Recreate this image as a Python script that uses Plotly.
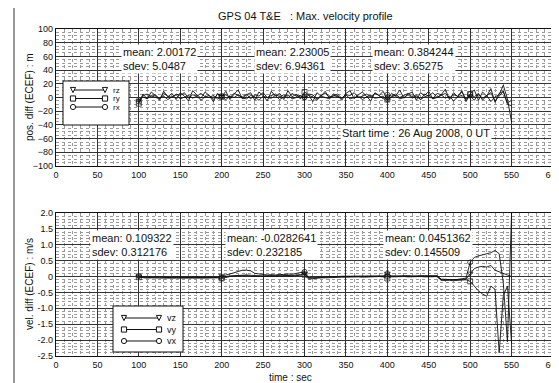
import plotly.graph_objects as go

W, H = 559, 383
OFF = 8  # the page body adds an 8 px margin around the figure

# ---------------- data ----------------
time_s = list(range(100, 551, 5))

rx = [-6, 3, 5, 1, 4, -2, 6, 2, 0, 5,
      3, 7, -1, 4, 2, 6, 1, 3, -3, 5,
      2, 4, 0, 6, 3, 1, 5, -2, 4, 2,
      7, 0, 3, 5, 1, 4, -1, 6, 2, 3,
      0, 5, 4, -2, 3, 6, 1, 2, 5, -1,
      4, 3, 7, 0, 2, 5, 1, 6, 3, -2,
      4, 2, 5, 0, 3, 6, 1, 4, -3, 5,
      2, 7, 0, 3, 6, -1, 4, 2, 8, -2,
      5, 1, 6, -4, 3, 7, -5, 2, 9, -8,
      -4]
ry = [-9, 5, -2, 8, 3, -4, 9, 1, 6, -3,
      7, 2, -5, 10, 4, -1, 8, 3, -6, 6,
      1, 9, -3, 5, 11, -2, 4, 7, -4, 8,
      3, -5, 9, 2, 6, -3, 10, 1, 5, -2,
      8, 4, -6, 7, 2, 9, -1, 5, 3, -4,
      6, 10, -2, 4, 8, 1, -5, 7, 3, 9,
      -3, 6, 2, 11, -1, 5, 8, -4, 7, 3,
      9, -2, 6, 4, 12, -3, 7, 1, 10, -6,
      5, 11, -4, 8, 2, 13, -7, 6, 9, -10,
      -12]
rz = [-4, 1, -2, 3, 0, -1, 2, -3, 1, 4,
      -2, 0, 3, -1, 2, -4, 1, 0, 3, -2,
      1, -3, 2, 0, 4, -1, -2, 3, 1, -4,
      2, 0, -1, 3, -3, 1, 4, -2, 0, 2,
      -1, 3, 1, -4, 2, 0, -2, 3, 1, -1,
      4, -2, 0, 2, -3, 1, 3, -1, 0, 2,
      -4, 1, 3, -2, 0, 4, -1, 2, -3, 1,
      3, -2, 0, 4, -1, 2, -5, 1, 3, -3,
      2, -4, 5, -1, 3, -6, 1, 4, 18, -2,
      -36]

vx = [0.02, -0.02, -0.03, -0.02, -0.03, -0.02, -0.03, -0.03, -0.02, -0.03,
      -0.03, -0.02, -0.03, -0.03, -0.02, -0.03, -0.03, -0.02, -0.03, -0.03,
      -0.05, 0.05, 0.08, 0.12, 0.18, 0.2, 0.2, 0.18, 0.1, 0.08,
      0.06, 0.05, 0.06, 0.05, 0.07, 0.06, 0.08, 0.07, 0.1, 0.12,
      0.15, -0.05, -0.04, -0.03, -0.02, -0.02, -0.01, -0.01, 0.0, 0.0,
      0.0, 0.01, 0.0, 0.01, 0.0, 0.01, 0.0, 0.01, 0.02, 0.02,
      0.08, 0.02, 0.02, 0.03, 0.02, 0.03, 0.02, 0.03, 0.02, 0.03,
      0.03, 0.02, 0.03, -0.08, -0.09, -0.08, -0.1, -0.09, -0.08, -0.05,
      0.45, 0.6, 0.65, 0.68, 0.7, 0.75, 0.82, 0.72, -0.2, -2.05,
      2.0]
vy = [-0.02, -0.04, -0.05, -0.04, -0.05, -0.04, -0.05, -0.05, -0.04, -0.05,
      -0.05, -0.04, -0.05, -0.05, -0.04, -0.05, -0.05, -0.04, -0.05, -0.04,
      -0.06, -0.02, 0.0, 0.02, 0.03, 0.04, 0.03, 0.02, 0.0, 0.01,
      0.0, 0.01, 0.0, 0.01, 0.02, 0.01, 0.02, 0.01, 0.02, 0.04,
      0.06, -0.08, -0.06, -0.05, -0.04, -0.04, -0.03, -0.03, -0.02, -0.02,
      -0.02, -0.01, -0.02, -0.01, -0.02, -0.01, -0.01, -0.01, 0.0, -0.01,
      -0.06, -0.01, 0.0, -0.01, 0.0, -0.01, 0.0, -0.01, 0.0, -0.01,
      0.0, -0.01, 0.0, -0.12, -0.11, -0.12, -0.13, -0.12, -0.11, -0.1,
      -0.15, -0.3, -0.45, -0.55, -0.62, -0.3, -0.4, -2.4, -0.6, -0.3,
      -2.1]
vz = [0.0, -0.01, -0.02, -0.01, -0.02, -0.01, -0.02, -0.01, -0.02, -0.01,
      -0.02, -0.01, -0.02, -0.01, -0.02, -0.01, -0.02, -0.01, -0.02, -0.02,
      0.03, 0.0, 0.02, 0.03, 0.05, 0.06, 0.05, 0.04, 0.03, 0.02,
      0.02, 0.03, 0.02, 0.03, 0.04, 0.03, 0.04, 0.03, 0.05, 0.06,
      0.1, -0.03, -0.02, -0.02, -0.01, -0.01, 0.0, 0.0, 0.0, 0.01,
      0.0, 0.01, 0.01, 0.0, 0.01, 0.01, 0.0, 0.01, 0.01, 0.01,
      0.1, 0.01, 0.0, 0.01, 0.0, 0.01, 0.0, 0.01, 0.0, 0.01,
      0.0, 0.01, 0.0, -0.1, -0.1, -0.11, -0.1, -0.1, -0.09, -0.08,
      0.1, 0.25, 0.3, 0.32, 0.3, 0.35, 0.2, 0.15, 0.1, 0.05,
      0.0]

pos_stats = [("mean: 2.00172", "sdev: 5.0487", 78),
             ("mean: 2.23005", "sdev: 6.94361", 239),
             ("mean: 0.384244", "sdev: 3.65275", 381)]
vel_stats = [("mean: 0.109322", "sdev: 0.312176", 41),
             ("mean: -0.0282641", "sdev: 0.232185", 204),
             ("mean: 0.0451362", "sdev: 0.145509", 395)]

x_ticks = list(range(0, 601, 50))
pos_ticks = list(range(-100, 101, 20))
vel_tickvals = [2.0, 1.5, 1.0, 0.5, 0.0, -0.5, -1.0, -1.5, -2.0, -2.5]
vel_ticktext = ["2.0", "1.5", "1.0", "0.5", "0", "-0.5", "-1.0", "-1.5", "-2.0", "-2.5"]

title_text = "GPS 04 T&amp;E   : Max. velocity profile"
start_text = "Start time : 26 Aug 2008, 0 UT"

# ---------------- layout geometry (page pixels) ----------------
L, R, T, B = 56, 553, 29, 356          # outer plot-area bounds on the page
IW, IH = R - L, B - T
FW, FH = W - OFF, H - OFF               # figure size so that page = figure + body margin


def px(x):
    return (x - L) / IW


def py(y):
    return (B - y) / IH


FONT = "Liberation Sans, Arial, sans-serif"
INK = "#111111"
marker_sizes = [5 if t % 100 == 0 else 0 for t in time_s]

fig = go.Figure()

pos_series = [("rz", rz, "triangle-down-open"), ("ry", ry, "square-open"), ("rx", rx, "circle-open")]
vel_series = [("vz", vz, "triangle-down-open"), ("vy", vy, "square-open"), ("vx", vx, "circle-open")]

for name, vals, sym in pos_series:
    fig.add_trace(go.Scatter(x=time_s, y=vals, name=name, mode="lines+markers",
                             line=dict(color=INK, width=0.9),
                             marker=dict(symbol=sym, size=marker_sizes, color=INK, line=dict(width=1)),
                             xaxis="x", yaxis="y", showlegend=False))
for name, vals, sym in vel_series:
    fig.add_trace(go.Scatter(x=time_s, y=vals, name=name, mode="lines+markers",
                             line=dict(color=INK, width=0.9),
                             marker=dict(symbol=sym, size=marker_sizes, color=INK, line=dict(width=1)),
                             xaxis="x2", yaxis="y2", showlegend=False))

grid_major = "#333333"
grid_minor = "#9a9a9a"
tickfont = dict(family=FONT, size=9, color=INK)

common_x = dict(range=[0, 600], tickvals=x_ticks, showgrid=True, gridcolor=grid_major, gridwidth=1,
                minor=dict(dtick=10, showgrid=True, gridcolor=grid_minor, griddash="dot", gridwidth=1),
                showline=True, linecolor=INK, linewidth=1.2, mirror=True, zeroline=False,
                automargin=False, ticks="", tickfont=tickfont, ticklabeloverflow="allow",
                domain=[0, 1])
common_y = dict(showgrid=True, gridcolor=grid_major, showline=True, linecolor=INK, linewidth=1.2,
                mirror=True, zeroline=False, automargin=False, ticks="", tickfont=tickfont)

fig.update_layout(
    width=FW, height=FH, autosize=False,
    margin=dict(l=L - OFF, r=W - R, t=T - OFF, b=H - B, pad=0),
    paper_bgcolor="white", plot_bgcolor="white",
    xaxis=dict(anchor="y", **common_x),
    yaxis=dict(anchor="x", range=[-100, 100], tickvals=pos_ticks, domain=[py(166), 1],
               minor=dict(dtick=5, showgrid=True, gridcolor=grid_minor, griddash="dot"), **common_y),
    xaxis2=dict(anchor="y2", **common_x),
    yaxis2=dict(anchor="x2", range=[-2.5, 2.0], tickvals=vel_tickvals, ticktext=vel_ticktext,
                domain=[0, py(213)],
                minor=dict(dtick=0.1, showgrid=True, gridcolor=grid_minor, griddash="dot"), **common_y),
    showlegend=False,
)

ann = []


def paper_text(text, x, y, size, angle=0, xanchor="center"):
    ann.append(dict(text=text, x=px(x), y=py(y), xref="paper", yref="paper",
                    xanchor=xanchor, yanchor="middle", textangle=angle,
                    showarrow=False, font=dict(family=FONT, size=size, color=INK)))


paper_text(title_text, 305, 16, 11)
paper_text("pos. diff (ECEF) : m", 29, 97, 10, angle=-90)
paper_text("vel. diff (ECEF) : m/s", 29, 284, 10, angle=-90)
paper_text("time : sec", 290, 377, 10)

for m, s, xs in pos_stats:
    ann.append(dict(text=m + "<br>" + s, x=xs, y=78, xref="x", yref="y", xanchor="left", yanchor="top",
                    align="left", showarrow=False, bgcolor="white", borderpad=1,
                    font=dict(family=FONT, size=11, color=INK)))
for m, s, xs in vel_stats:
    ann.append(dict(text=m + "<br>" + s, x=xs, y=1.47, xref="x2", yref="y2", xanchor="left", yanchor="top",
                    align="left", showarrow=False, bgcolor="white", borderpad=1,
                    font=dict(family=FONT, size=11, color=INK)))
ann.append(dict(text=start_text, x=435, y=-52, xref="x", yref="y", xanchor="center", yanchor="middle",
                showarrow=False, bgcolor="white", borderpad=1, font=dict(family=FONT, size=11, color=INK)))

shapes = []
# figure frame (left and top edges)
shapes.append(dict(type="line", xref="paper", yref="paper", x0=px(14), x1=px(14), y0=py(4), y1=py(383),
                   line=dict(color="#777777", width=1.5)))
shapes.append(dict(type="line", xref="paper", yref="paper", x0=px(14), x1=px(559), y0=py(4), y1=py(4),
                   line=dict(color="#999999", width=1.2)))


def add_legend(box, rows, names, xl0, xl1, xt, fsize):
    bx0, by0, bx1, by1 = box
    shapes.append(dict(type="rect", xref="paper", yref="paper", x0=px(bx0), x1=px(bx1),
                       y0=py(by1), y1=py(by0), fillcolor="white", line=dict(color=INK, width=1), layer="above"))
    syms = ["tri", "sq", "circ"]
    s = 2.6
    for ry_, nm, sy in zip(rows, names, syms):
        shapes.append(dict(type="line", xref="paper", yref="paper", x0=px(xl0), x1=px(xl1),
                           y0=py(ry_), y1=py(ry_), line=dict(color=INK, width=1), layer="above"))
        for cx in (xl0, xl1):
            if sy == "tri":
                path = "M {:.5f},{:.5f} L {:.5f},{:.5f} L {:.5f},{:.5f} Z".format(
                    px(cx - s), py(ry_ - s), px(cx + s), py(ry_ - s), px(cx), py(ry_ + s))
                shapes.append(dict(type="path", xref="paper", yref="paper", path=path,
                                   fillcolor="white", line=dict(color=INK, width=1), layer="above"))
            elif sy == "sq":
                shapes.append(dict(type="rect", xref="paper", yref="paper", x0=px(cx - s), x1=px(cx + s),
                                   y0=py(ry_ + s), y1=py(ry_ - s), fillcolor="white",
                                   line=dict(color=INK, width=1), layer="above"))
            else:
                shapes.append(dict(type="circle", xref="paper", yref="paper", x0=px(cx - s), x1=px(cx + s),
                                   y0=py(ry_ + s), y1=py(ry_ - s), fillcolor="white",
                                   line=dict(color=INK, width=1), layer="above"))
        paper_text(nm, xt, ry_, fsize, xanchor="left")


add_legend((63, 81, 129, 125), [90, 98.5, 107], ["rz", "ry", "rx"], 73, 105, 111, 8)
add_legend((113, 306, 183, 352), [318, 329.5, 341], ["vz", "vy", "vx"], 124, 159, 165, 9)

fig.update_layout(annotations=ann, shapes=shapes)
fig.write_html("out.html")
